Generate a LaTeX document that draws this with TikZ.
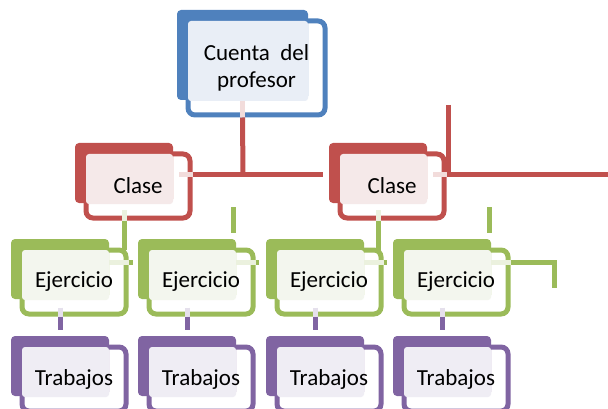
\documentclass[tikz,border=0pt]{standalone}
\usepackage{fontspec}
\setmainfont{Carlito}
\definecolor{bD}{HTML}{4F81BD}
\definecolor{bL}{HTML}{E9EEF6}
\definecolor{rD}{HTML}{C0504D}
\definecolor{rL}{HTML}{F5E9E9}
\definecolor{rF}{HTML}{F2DCDB}
\definecolor{gD}{HTML}{9BBB59}
\definecolor{gL}{HTML}{F3F6EE}
\definecolor{gF}{HTML}{EBF1DE}
\definecolor{pD}{HTML}{8064A2}
\definecolor{pL}{HTML}{EFEDF4}
\definecolor{pF}{HTML}{E5E0EC}
\tikzset{
  dk/.style={fill=#1, draw=none, rounded corners=4pt, inner sep=0pt, outer sep=0pt, anchor=north west},
  ol/.style={draw=#1, fill=white, line width=5pt, rounded corners=7pt, inner sep=0pt, anchor=north west},
  lt/.style={fill=#1, draw=none, rounded corners=3pt, inner sep=0pt, outer sep=0pt, anchor=north west},
  lbl/.style={font=\fontsize{23}{27}\selectfont, align=center, inner sep=0pt, text=black},
  cn/.style={draw=#1, line width=5pt},
}
\newcommand\ssbox[8]{%
  \node[ol=#2, minimum width={#6+6}, minimum height={#7+4}] (#1o) at (#4+8.5,#5+8.5) {};
  \node[dk=#2, minimum width=#6, minimum height=#7] (#1d) at (#4,#5) {};
  \node[lt=#3, minimum width={#6-11}, minimum height={#7-10}] (#1l) at (#4+11,#5+11) {};
  \node[lbl] (#1) at (#1o.center) {#8};
}
\begin{document}
\begin{tikzpicture}[x=1pt,y=-1pt]
\useasboundingbox (0,0) rectangle (608,409);
\begin{scope}
\clip (0,0) rectangle (608,409);
% boxes
\ssbox{m}{bD}{bL}{177}{10}{131}{90}{Cuenta\ \ del\\profesor}
\ssbox{ca}{rD}{rL}{75}{143}{98}{60}{Clase}
\ssbox{cb}{rD}{rL}{329}{143}{98}{60}{Clase}
\ssbox{ea}{gD}{gL}{11}{239}{98}{60}{Ejercicio}
\ssbox{eb}{gD}{gL}{138}{239}{98}{60}{Ejercicio}
\ssbox{ec}{gD}{gL}{266}{239}{98}{60}{Ejercicio}
\ssbox{ed}{gD}{gL}{393}{239}{98}{60}{Ejercicio}
\ssbox{ta}{pD}{pL}{11}{336}{98}{60}{Trabajos}
\ssbox{tb}{pD}{pL}{138}{336}{98}{60}{Trabajos}
\ssbox{tc}{pD}{pL}{266}{336}{98}{60}{Trabajos}
\ssbox{td}{pD}{pL}{393}{336}{98}{60}{Trabajos}
% red connectors
\coordinate (rj) at (243,175);
\coordinate (rend) at (323,175);
\coordinate (rtop) at (448,105);
\coordinate (rj2) at (448,175);
\coordinate (redge) at (608,175);
\draw[cn=rF] (md.center |- ml.south) -- (mo.south -| md.center);
\draw[cn=rD] (mo.south -| md.center) -- (rj);
\draw[cn=rF] (179,175) -- (cao.east |- rj);
\draw[cn=rD] (cao.east |- rj) -- (rend);
\draw[cn=rD] (rtop) -- (rj2);
\draw[cn=rF] (433,175) -- (cbo.east |- rj2);
\draw[cn=rD] (cbo.east |- rj2) -- (redge);
% green connectors
\draw[cn=gF] (cad.center |- cal.south) ++(0,6) -- (cad.center |- cao.south);
\draw[cn=gD] (cad.center |- cao.south) -- (cad.center |- eal.north);
\draw[cn=gF] (cbd.center |- cbl.south) ++(0,6) -- (cbd.center |- cbo.south);
\draw[cn=gD] (cbd.center |- cbo.south) -- (cbd.center |- ecl.north);
\coordinate (ga) at (233,207); \coordinate (gaa) at (233,233);
\coordinate (gb) at (489,207); \coordinate (gbb) at (489,233);
\draw[cn=gD] (ga) -- (gaa);
\draw[cn=gD] (gb) -- (gbb);
\coordinate (sa) at (133,262); \coordinate (sb) at (259,262); \coordinate (sc) at (387,262);
\coordinate (sd) at (554,262); \coordinate (sdd) at (554,288);
\draw[cn=gF] (eal.east |- sa) -- (eao.east |- sa);
\draw[cn=gD] (eao.east |- sa) -- (sa);
\draw[cn=gF] (ebl.east |- sb) -- (ebo.east |- sb);
\draw[cn=gD] (ebo.east |- sb) -- (sb);
\draw[cn=gF] (ecl.east |- sc) -- (eco.east |- sc);
\draw[cn=gD] (eco.east |- sc) -- (sc);
\draw[cn=gF] (edl.east |- sd) -- (edo.east |- sd);
\draw[cn=gD] (edo.east |- sd) -- (sd.center) -- (sdd);
% purple connectors
\foreach \e/\t in {ea/ta, eb/tb, ec/tc, ed/td}{
  \draw[cn=pF] (\e d.center |- \e o.south) ++(0,-9) -- (\e d.center |- \e o.south);
  \draw[cn=pD] (\e d.center |- \e o.south) -- ([yshift=6pt]\t d.north -| \e d.center);
}
\end{scope}
\end{tikzpicture}
\end{document}
